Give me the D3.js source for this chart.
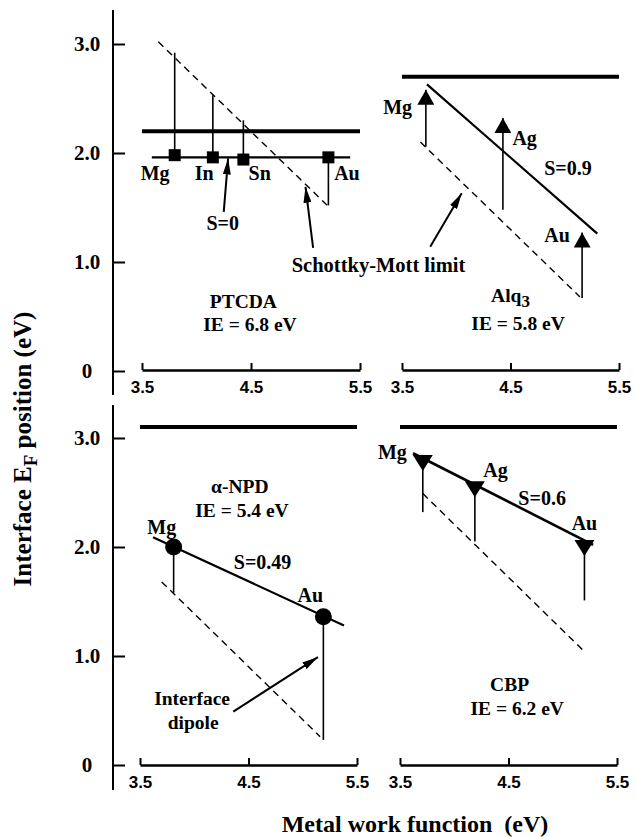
<!DOCTYPE html>
<meta charset="utf-8">
<script src="https://d3js.org/d3.v7.min.js"></script>
<style>
  body { margin: 0; background: #fff; }
  text { font-family: "Liberation Serif", "Times New Roman", serif; font-weight: bold; fill: #000; }
</style>
<div id="my_dataviz"></div>
<script>

// ---- data ----
// PTCDA, IE = 6.8 eV
var ptcdaMetals = ["Mg", "In", "Sn", "Au"];
var ptcdaWF = [3.80, 4.15, 4.43, 5.21];
var ptcdaEF = [1.98, 1.96, 1.94, 1.96];
var ptcdaSM = [2.92, 2.53, 2.30, 1.52];
var ptcdaFitX = [3.59, 5.41], ptcdaFitY = [1.96, 1.96];
var ptcdaLimX = [3.65, 5.22], ptcdaLimY = [3.02, 1.50];
var ptcdaLumo = 2.2;

// Alq3, IE = 5.8 eV
var alqMetals = ["Mg", "Ag", "Au"];
var alqWF = [3.72, 4.43, 5.16];
var alqEF = [2.58, 2.32, 1.27];
var alqSM = [2.06, 1.48, 0.67];
var alqFitX = [3.73, 5.30], alqFitY = [2.63, 1.26];
var alqLimX = [3.67, 5.14], alqLimY = [2.10, 0.68];
var alqLumo = 2.7;

// alpha-NPD, IE = 5.4 eV
var npdMetals = ["Mg", "Au"];
var npdWF = [3.81, 5.19];
var npdEF = [2.00, 1.36];
var npdSM = [1.58, 0.23];
var npdFitX = [3.62, 5.38], npdFitY = [2.09, 1.28];
var npdLimX = [3.70, 5.16], npdLimY = [1.68, 0.26];
var npdLumo = 3.1;

// CBP, IE = 6.2 eV
var cbpMetals = ["Mg", "Ag", "Au"];
var cbpWF = [3.71, 4.19, 5.20];
var cbpEF = [2.78, 2.54, 2.00];
var cbpSM = [2.32, 2.05, 1.51];
var cbpFitX = [3.62, 5.28], cbpFitY = [2.86, 2.02];
var cbpLimX = [3.71, 5.18], cbpLimY = [2.49, 1.06];
var cbpLumo = 3.1;

var xTicks = [3.5, 4.5, 5.5];
var yTicks = [0, 1, 2, 3];

// ---- page ----
var W = 635, H = 837;
var svg = d3.select("#my_dataviz").append("svg")
  .attr("width", W).attr("height", H);

var defs = svg.append("defs");
defs.append("marker").attr("id", "thin")
  .attr("markerUnits", "userSpaceOnUse")
  .attr("viewBox", "0 0 16 8").attr("markerWidth", 16).attr("markerHeight", 8)
  .attr("refX", 16).attr("refY", 4).attr("orient", "auto")
  .append("path").attr("d", "M0,0 L16,4 L0,8 Z").attr("fill", "#000");
defs.append("marker").attr("id", "big")
  .attr("markerUnits", "userSpaceOnUse")
  .attr("viewBox", "0 0 15 17").attr("markerWidth", 15).attr("markerHeight", 17)
  .attr("refX", 15).attr("refY", 8.5).attr("orient", "auto")
  .append("path").attr("d", "M0,0 L15,8.5 L0,17 Z").attr("fill", "#000");

// panel layout (pixel ranges)
var panels = [
  { name: "ptcda", xr: [142, 360], yr: [371, 44], axisY: 370 },
  { name: "alq",   xr: [402, 619], yr: [371, 44], axisY: 370 },
  { name: "npd",   xr: [140, 357], yr: [765, 438], axisY: 765 },
  { name: "cbp",   xr: [400, 617], yr: [765, 438], axisY: 765 }
];
panels.forEach(function(p) {
  p.x = d3.scaleLinear().domain([3.5, 5.5]).range(p.xr);
  p.y = d3.scaleLinear().domain([0, 3]).range(p.yr);
  p.g = svg.append("g");
});

// y axes at far left
[{ y: panels[0].y, top: 10, bot: 395 }, { y: panels[2].y, top: 405, bot: 790 }].forEach(function(a) {
  var g = svg.append("g").attr("transform", "translate(113,0)");
  g.call(d3.axisLeft(a.y).tickValues(yTicks)
      .tickFormat(function(d) { return d === 0 ? "0" : d.toFixed(1); })
      .tickSizeInner(-12).tickSizeOuter(0).tickPadding(0));
  g.select(".domain").remove();
  g.selectAll(".tick line").attr("stroke", "#000").attr("stroke-width", 2);
  g.selectAll(".tick text").attr("x", -26).attr("text-anchor", "middle")
    .style("font-size", "21px").style("font-family", "Liberation Serif, serif").style("font-weight", "bold");
  g.append("line").attr("x1", 0).attr("x2", 0).attr("y1", a.top).attr("y2", a.bot)
    .attr("stroke", "#000").attr("stroke-width", 2);
});

// x axes
panels.forEach(function(p) {
  var g = svg.append("g").attr("transform", "translate(0," + p.axisY + ")");
  g.call(d3.axisBottom(p.x).tickValues(xTicks).tickFormat(d3.format(".1f"))
      .tickSizeInner(-7).tickSizeOuter(0).tickPadding(11));
  g.select(".domain").attr("stroke", "#000").attr("stroke-width", 2.5);
  g.selectAll(".tick line").attr("stroke", "#000").attr("stroke-width", 2);
  g.selectAll(".tick text").style("font-size", "17px")
    .style("font-family", "Liberation Sans, Arial, sans-serif").style("font-weight", "bold");
});

function hline(p, v, w) {
  p.g.append("line")
    .attr("x1", p.x(3.5)).attr("x2", p.x(5.5)).attr("y1", p.y(v)).attr("y2", p.y(v))
    .attr("stroke", "#000").attr("stroke-width", w);
}
function seg(p, xs, ys, w, dash) {
  p.g.append("line")
    .attr("x1", p.x(xs[0])).attr("x2", p.x(xs[1])).attr("y1", p.y(ys[0])).attr("y2", p.y(ys[1]))
    .attr("stroke", "#000").attr("stroke-width", w)
    .attr("stroke-dasharray", dash || null);
}
function drops(p, wf, from, to, marker) {
  p.g.selectAll(null).data(wf).enter().append("line")
    .attr("x1", function(d) { return p.x(d); }).attr("x2", function(d) { return p.x(d); })
    .attr("y1", function(d, i) { return p.y(from[i]); })
    .attr("y2", function(d, i) { return p.y(to[i]); })
    .attr("stroke", "#000").attr("stroke-width", 1.6)
    .attr("marker-end", marker ? "url(#" + marker + ")" : null);
}
function label(p, txt, xv, yv, size) {
  return p.g.append("text").attr("x", p.x(xv)).attr("y", p.y(yv)).attr("dy", "0.35em")
    .attr("text-anchor", "middle").style("font-size", (size || 20) + "px").text(txt);
}
function arrow(p, x0, y0, x1, y1) {
  p.g.append("line").attr("x1", p.x(x0)).attr("y1", p.y(y0)).attr("x2", p.x(x1)).attr("y2", p.y(y1))
    .attr("stroke", "#000").attr("stroke-width", 2).attr("marker-end", "url(#thin)");
}
var DASH = "7,5";

// ---- PTCDA ----
var P = panels[0];
hline(P, ptcdaLumo, 4);
seg(P, ptcdaLimX, ptcdaLimY, 1.4, DASH);
drops(P, ptcdaWF, ptcdaEF, ptcdaSM);
seg(P, ptcdaFitX, ptcdaFitY, 2.2);
P.g.selectAll(null).data(ptcdaWF).enter().append("rect")
  .attr("x", function(d) { return P.x(d) - 6; })
  .attr("y", function(d, i) { return P.y(ptcdaEF[i]) - 6; })
  .attr("width", 12).attr("height", 12).attr("fill", "#000");
var ptcdaLabX = [3.62, 4.07, 4.58, 5.38];
ptcdaMetals.forEach(function(m, i) { label(P, m, ptcdaLabX[i], 1.82); });
arrow(P, 4.25, 1.46, 4.29, 1.95);
label(P, "S=0", 4.24, 1.36);
arrow(P, 5.07, 1.13, 5.00, 1.69);
label(P, "Schottky-Mott limit", 5.67, 0.97, 20.5);
label(P, "PTCDA", 4.43, 0.645, 19.5);
label(P, "IE = 6.8 eV", 4.49, 0.43, 19.5);

// ---- Alq3 ----
P = panels[1];
hline(P, alqLumo, 4);
seg(P, alqLimX, alqLimY, 1.4, DASH);
seg(P, alqFitX, alqFitY, 2.2);
drops(P, alqWF, alqSM, alqEF, "big");
var alqLabX = [3.46, 4.63, 4.93], alqLabY = [2.42, 2.14, 1.25];
alqMetals.forEach(function(m, i) { label(P, m, alqLabX[i], alqLabY[i]); });
label(P, "S=0.9", 5.03, 1.86);
arrow(P, 3.76, 1.14, 4.05, 1.63);
var t = label(P, "Alq", 4.50, 0.70, 19.5);
t.append("tspan").attr("dy", "5").style("font-size", "17px").text("3");
label(P, "IE = 5.8 eV", 4.57, 0.44, 19.5);

// ---- alpha-NPD ----
P = panels[2];
hline(P, npdLumo, 4);
seg(P, npdLimX, npdLimY, 1.4, DASH);
drops(P, npdWF, npdEF, npdSM);
seg(P, npdFitX, npdFitY, 2.2);
P.g.selectAll(null).data(npdWF).enter().append("circle")
  .attr("cx", function(d) { return P.x(d); })
  .attr("cy", function(d, i) { return P.y(npdEF[i]); })
  .attr("r", 8.5).attr("fill", "#000");
var npdLabX = [3.70, 5.07], npdLabY = [2.18, 1.56];
npdMetals.forEach(function(m, i) { label(P, m, npdLabX[i], npdLabY[i]); });
label(P, "S=0.49", 4.63, 1.86);
label(P, "\u03b1-NPD", 4.42, 2.555, 19.5);
label(P, "IE = 5.4 eV", 4.44, 2.34, 19.5);
arrow(P, 4.36, 0.49, 5.14, 0.99);
label(P, "Interface", 3.98, 0.61, 19.5);
label(P, "dipole", 3.99, 0.39, 19.5);

// ---- CBP ----
P = panels[3];
hline(P, cbpLumo, 4);
seg(P, cbpLimX, cbpLimY, 1.4, DASH);
drops(P, cbpWF, cbpEF, cbpSM);
seg(P, cbpFitX, cbpFitY, 2.6);
P.g.selectAll(null).data(cbpWF).enter().append("path")
  .attr("transform", function(d, i) { return "translate(" + P.x(d) + "," + P.y(cbpEF[i]) + ")"; })
  .attr("d", "M-10,-7 L10,-7 L0,9 Z").attr("fill", "#000");
var cbpLabX = [3.43, 4.38, 5.20], cbpLabY = [2.87, 2.71, 2.22];
cbpMetals.forEach(function(m, i) { label(P, m, cbpLabX[i], cbpLabY[i]); });
label(P, "S=0.6", 4.81, 2.45);
label(P, "CBP", 4.51, 0.74, 19.5);
label(P, "IE = 6.2 eV", 4.58, 0.525, 19.5);

// ---- axis titles ----
var yt = svg.append("text").attr("transform", "translate(31,449) rotate(-90)")
  .attr("text-anchor", "middle").style("font-size", "25px");
yt.append("tspan").text("Interface E");
yt.append("tspan").attr("dy", 6).style("font-size", "19px").text("F");
yt.append("tspan").attr("dy", -6).text(" position (eV)");

svg.append("text").attr("x", 415).attr("y", 832).attr("text-anchor", "middle")
  .style("font-size", "24px").attr("xml:space", "preserve").text("Metal work function  (eV)");

</script>
